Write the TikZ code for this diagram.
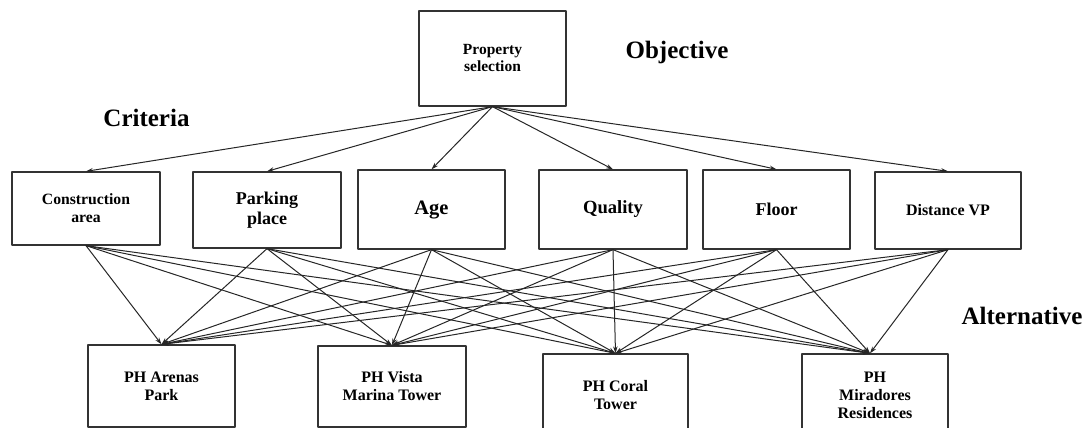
\documentclass[tikz,border=0pt]{standalone}
\usepackage{fontspec}
\setmainfont{Liberation Serif}
\usetikzlibrary{arrows.meta}
\newcommand{\boxfont}[2]{\fontsize{#1}{#2}\selectfont\bfseries}
\begin{document}
\begin{tikzpicture}[x=1pt,y=-1pt,line cap=round,line join=round,>={Stealth[length=7pt,width=4.5pt]},
	box/.style={draw=black!80,line width=1.3pt,inner sep=0pt,align=center},
	lbl/.style={inner sep=0pt,font={\boxfont{25}{28}}},
	link/.style={->,line width=1pt,draw=black!85}]
				\clip (0,0) rectangle (1088,428);
				\node[box,minimum width=147pt,minimum height=95pt,font={\boxfont{15.5}{17}}] (prop) at (492.5,58.5) {Property\\selection};
				\node[box,minimum width=148pt,minimum height=73pt,font={\boxfont{15.7}{18}}] (cons) at (86,208.5) {Construction\\area};
				\node[box,minimum width=148pt,minimum height=76pt,font={\boxfont{18}{20}}] (park) at (267,210) {Parking\\place};
				\node[box,minimum width=147pt,minimum height=79pt,font={\boxfont{20.5}{23}}] (age) at (431.5,209.5) {Age};
				\node[box,minimum width=148pt,minimum height=79pt,font={\boxfont{18.6}{21}}] (qual) at (613,209.5) {Quality};
				\node[box,minimum width=147pt,minimum height=79pt,font={\boxfont{18}{20}}] (floor) at (776.5,209.5) {Floor};
				\node[box,minimum width=146pt,minimum height=77pt,font={\boxfont{16}{18}}] (dist) at (948,210.5) {Distance VP};
				\node[box,minimum width=147pt,minimum height=82pt,font={\boxfont{16}{18}}] (arenas) at (161.5,386) {PH Arenas\\Park};
				\node[box,minimum width=148pt,minimum height=81pt,font={\boxfont{16}{18}}] (vista) at (392,386.5) {PH Vista\\Marina Tower};
				\node[box,minimum width=145pt,minimum height=82pt,font={\boxfont{16}{18}}] (coral) at (615.5,395) {PH Coral\\Tower};
				\node[box,minimum width=146pt,minimum height=82pt,font={\boxfont{16}{18}}] (mira) at (875,395) {PH\\Miradores\\Residences};
				\node[lbl] (objlbl) at (677,52) {Objective};
				\node[lbl] (critlbl) at (146.5,118) {Criteria};
				\node[lbl] (altlbl) at (1022,316) {Alternative};
				\coordinate (miratop) at ([xshift=-5pt]mira.north);
				\draw[link] (prop.south) -- (cons.north);
				\draw[link] (prop.south) -- (park.north);
				\draw[link] (prop.south) -- (age.north);
				\draw[link] (prop.south) -- (qual.north);
				\draw[link] (prop.south) -- (floor.north);
				\draw[link] (prop.south) -- (dist.north);
				\draw[link] (cons.south) -- (arenas.north);
				\draw[link] (cons.south) -- (vista.north);
				\draw[link] (cons.south) -- (coral.north);
				\draw[link] (cons.south) -- (miratop);
				\draw[link] (park.south) -- (arenas.north);
				\draw[link] (park.south) -- (vista.north);
				\draw[link] (park.south) -- (coral.north);
				\draw[link] (park.south) -- (miratop);
				\draw[link] (age.south) -- (arenas.north);
				\draw[link] (age.south) -- (vista.north);
				\draw[link] (age.south) -- (coral.north);
				\draw[link] (age.south) -- (miratop);
				\draw[link] (qual.south) -- (arenas.north);
				\draw[link] (qual.south) -- (vista.north);
				\draw[link] (qual.south) -- (coral.north);
				\draw[link] (qual.south) -- (miratop);
				\draw[link] (floor.south) -- (arenas.north);
				\draw[link] (floor.south) -- (vista.north);
				\draw[link] (floor.south) -- (coral.north);
				\draw[link] (floor.south) -- (miratop);
				\draw[link] (dist.south) -- (arenas.north);
				\draw[link] (dist.south) -- (vista.north);
				\draw[link] (dist.south) -- (coral.north);
				\draw[link] (dist.south) -- (miratop);
\end{tikzpicture}
\end{document}
